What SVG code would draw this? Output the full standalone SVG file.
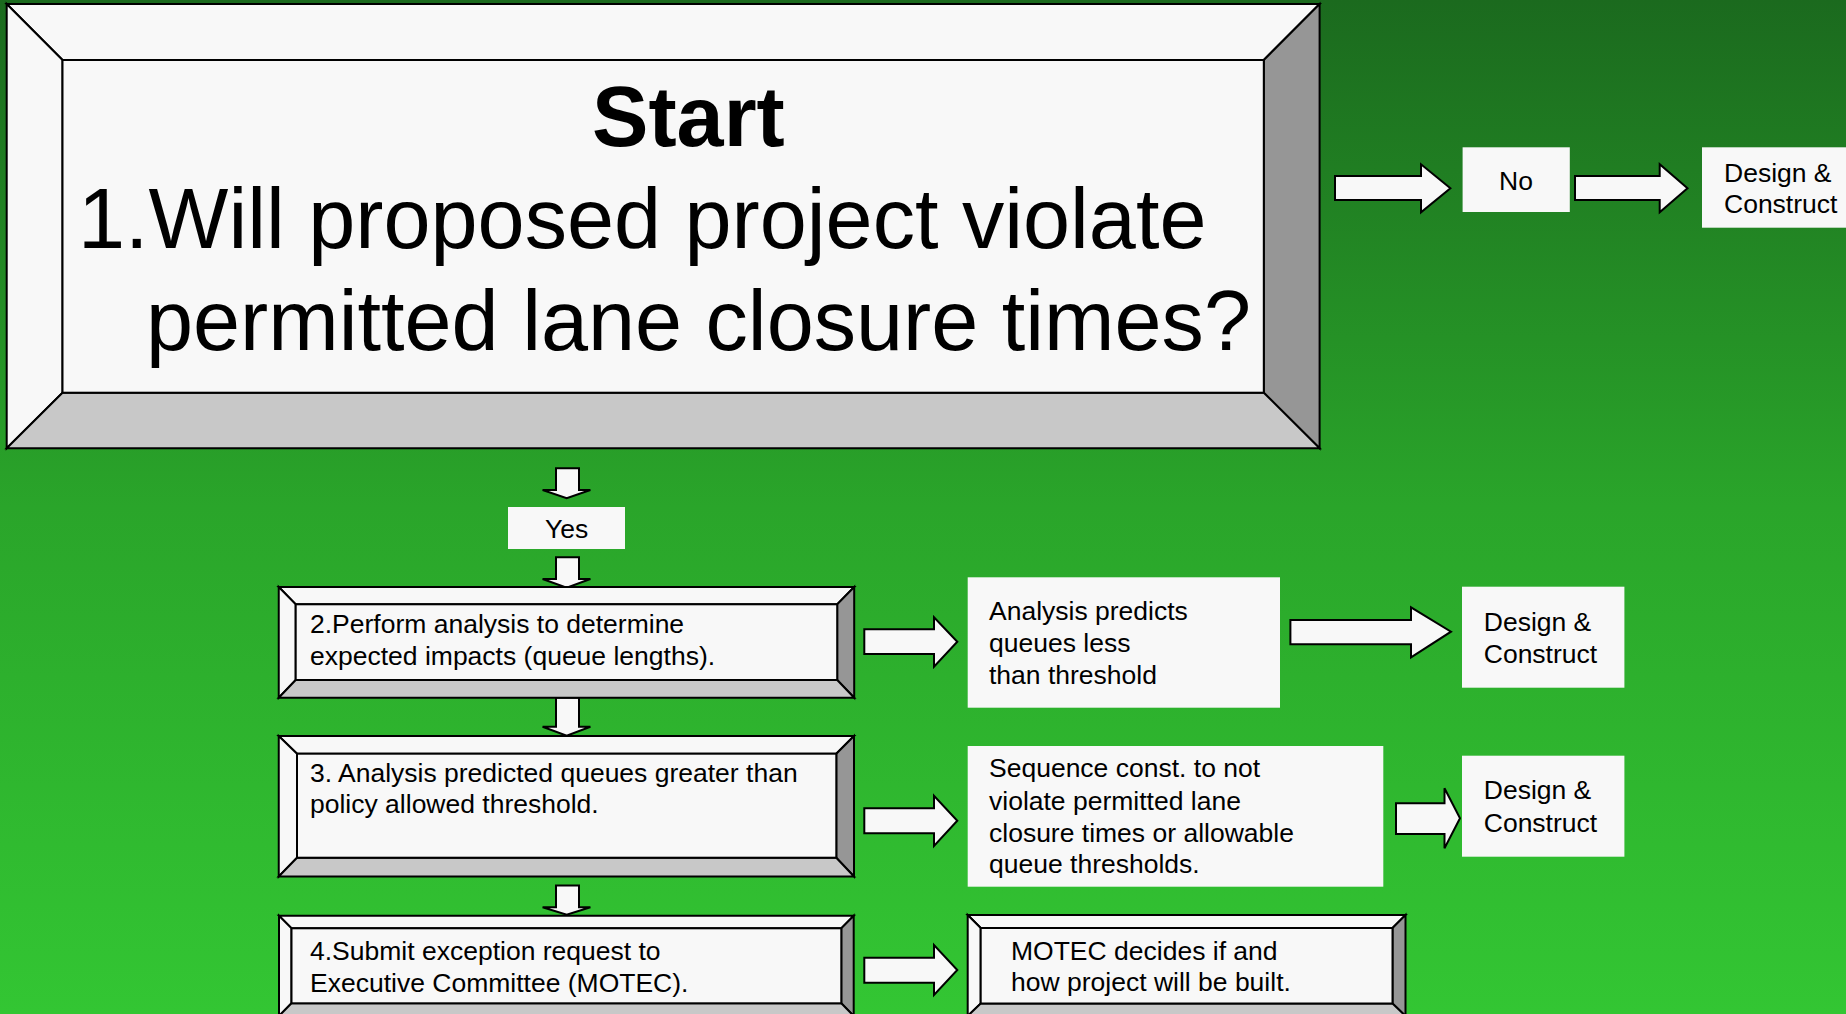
<svg xmlns="http://www.w3.org/2000/svg" width="1846" height="1014" viewBox="0 0 1846 1014">
<defs>
<linearGradient id="bg" x1="0" y1="0" x2="0" y2="1">
<stop offset="0" stop-color="#1b6a1e"/>
<stop offset="0.5" stop-color="#2aa52a"/>
<stop offset="1" stop-color="#33c633"/>
</linearGradient>
</defs>
<style>
.lt{fill:#f8f8f8;stroke:#000;stroke-width:2;stroke-linejoin:miter}
.dk{fill:#969696;stroke:#000;stroke-width:2}
.md{fill:#c8c8c8;stroke:#000;stroke-width:2}
.face{fill:#f8f8f8;stroke:#000;stroke-width:2}
.box{fill:#f8f8f8}
.arr{fill:#f8f8f8;stroke:#000;stroke-width:2;stroke-linejoin:miter}
text{font-family:"Liberation Sans",Arial,sans-serif;fill:#000}
.t{font-size:26.5px}
.big{font-size:84.6px}
</style>
<rect x="0" y="0" width="1846" height="1014" fill="url(#bg)"/>

<g id="connectors">
<polygon class="arr" points="1335,176 1421,176 1421,164.3 1450.4,188.3 1421,212.3 1421,200 1335,200"/>
<polygon class="arr" points="1575,176 1659.7,176 1659.7,164.3 1687.5,188.3 1659.7,212.3 1659.7,200 1575,200"/>
<polygon class="arr" points="556,468.3 579,468.3 579,490 590.4,490 566.7,498.3 542.6,490 556,490"/>
<polygon class="arr" points="556,557.3 579,557.3 579,579 590.4,579 566.7,587.7 542.6,579 556,579"/>
<polygon class="arr" points="556,697.7 579,697.7 579,726.7 590.4,726.7 566.7,735.7 542.6,726.7 556,726.7"/>
<polygon class="arr" points="556,885.5 579,885.5 579,907.3 590.4,907.3 566.7,914.7 542.6,907.3 556,907.3"/>
<polygon class="arr" points="864.3,629.3 934,629.3 934,617.3 957.3,641.7 934,666.7 934,654 864.3,654"/>
<polygon class="arr" points="864.3,808.3 934,808.3 934,795.7 957.3,820.7 934,846 934,833.3 864.3,833.3"/>
<polygon class="arr" points="864.3,957.7 934,957.7 934,945 957.3,970 934,995 934,982.7 864.3,982.7"/>
<polygon class="arr" points="1290.4,620 1411,620 1411,607.3 1451,631.7 1411,657.3 1411,644.3 1290.4,644.3"/>
<polygon class="arr" points="1396,803.3 1444.5,803.3 1444.5,788.3 1460,818.3 1444.5,848.3 1444.5,834 1396,834"/>
</g>

<g id="node1">
<polygon class="lt" points="6.7,4 1319.6,4 1263.8,60 62.5,60"/>
<polygon class="lt" points="6.7,4 62.5,60 62.5,392.7 6.7,448.3"/>
<polygon class="dk" points="1319.6,4 1319.6,448.3 1263.8,392.7 1263.8,60"/>
<polygon class="md" points="6.7,448.3 62.5,392.7 1263.8,392.7 1319.6,448.3"/>
<rect class="face" x="62.5" y="60" width="1201.3" height="332.7"/>
<text x="592" y="146" font-size="84.6" font-weight="bold">Start</text>
<text class="big" x="78" y="248">1.Will proposed project violate</text>
<text class="big" x="146" y="350">permitted lane closure times?</text>
</g>

<g id="no">
<rect class="box" x="1462.6" y="147.3" width="107.2" height="64.7"/>
<text class="t" x="1516" y="190" text-anchor="middle">No</text>
</g>

<g id="dc1">
<rect class="box" x="1702" y="147.3" width="150" height="80.4"/>
<text class="t" x="1724" y="181.7">Design &amp;</text>
<text class="t" x="1724" y="213">Construct</text>
</g>

<g id="yes">
<rect class="box" x="508" y="507" width="117" height="42"/>
<text class="t" x="566.7" y="537.7" text-anchor="middle">Yes</text>
</g>

<g id="node2">
<polygon class="lt" points="278.75,587 854.2,587 837.2,604.3 295.7,604.3"/>
<polygon class="lt" points="278.75,587 295.7,604.3 295.7,680 278.75,697.7"/>
<polygon class="dk" points="854.2,587 854.2,697.7 837.2,680 837.2,604.3"/>
<polygon class="md" points="278.75,697.7 295.7,680 837.2,680 854.2,697.7"/>
<rect class="face" x="295.7" y="604.3" width="541.5" height="75.7"/>
<text class="t" x="310" y="633.3">2.Perform analysis to determine</text>
<text class="t" x="310" y="665">expected impacts (queue lengths).</text>
</g>

<g id="node3">
<polygon class="lt" points="278.75,736 854,736 836.3,753.7 297,753.7"/>
<polygon class="lt" points="278.75,736 297,753.7 297,857.7 278.75,876.5"/>
<polygon class="dk" points="854,736 854,876.5 836.3,857.7 836.3,753.7"/>
<polygon class="md" points="278.75,876.5 297,857.7 836.3,857.7 854,876.5"/>
<rect class="face" x="297" y="753.7" width="539.3" height="104"/>
<text class="t" x="310" y="781.7">3. Analysis predicted queues greater than</text>
<text class="t" x="310" y="812.7">policy allowed threshold.</text>
</g>

<g id="node4">
<polygon class="lt" points="279,915.7 853.7,915.7 841.3,928.3 291.5,928.3"/>
<polygon class="lt" points="279,915.7 291.5,928.3 291.5,1003.3 279,1016"/>
<polygon class="dk" points="853.7,915.7 853.7,1016 841.3,1003.3 841.3,928.3"/>
<polygon class="md" points="279,1016 291.5,1003.3 841.3,1003.3 853.7,1016"/>
<rect class="face" x="291.5" y="928.3" width="549.8" height="75"/>
<text class="t" x="310" y="960">4.Submit exception request to</text>
<text class="t" x="310" y="991.7">Executive Committee (MOTEC).</text>
</g>

<g id="analysis">
<rect class="box" x="967.7" y="577.3" width="312.3" height="130.4"/>
<text class="t" x="989" y="620">Analysis predicts</text>
<text class="t" x="989" y="652.3">queues less</text>
<text class="t" x="989" y="684">than threshold</text>
</g>

<g id="dc2">
<rect class="box" x="1462" y="586.7" width="162.4" height="101"/>
<text class="t" x="1483.75" y="630.7">Design &amp;</text>
<text class="t" x="1483.75" y="663.3">Construct</text>
</g>

<g id="sequence">
<rect class="box" x="967.7" y="746" width="415.6" height="140.7"/>
<text class="t" x="989" y="777.3">Sequence const. to not</text>
<text class="t" x="989" y="810">violate permitted lane</text>
<text class="t" x="989" y="841.7">closure times or allowable</text>
<text class="t" x="989" y="873.3">queue thresholds.</text>
</g>

<g id="dc3">
<rect class="box" x="1462" y="755.7" width="162.4" height="101"/>
<text class="t" x="1483.75" y="799.3">Design &amp;</text>
<text class="t" x="1483.75" y="831.7">Construct</text>
</g>

<g id="motec">
<polygon class="lt" points="967.7,915 1405.5,915 1392.5,928 980.7,928"/>
<polygon class="lt" points="967.7,915 980.7,928 980.7,1003.5 967.7,1016"/>
<polygon class="dk" points="1405.5,915 1405.5,1016 1392.5,1003.5 1392.5,928"/>
<polygon class="md" points="967.7,1016 980.7,1003.5 1392.5,1003.5 1405.5,1016"/>
<rect class="face" x="980.7" y="928" width="411.8" height="75.5"/>
<text class="t" x="1011" y="960">MOTEC decides if and</text>
<text class="t" x="1011" y="991">how project will be built.</text>
</g>
</svg>
